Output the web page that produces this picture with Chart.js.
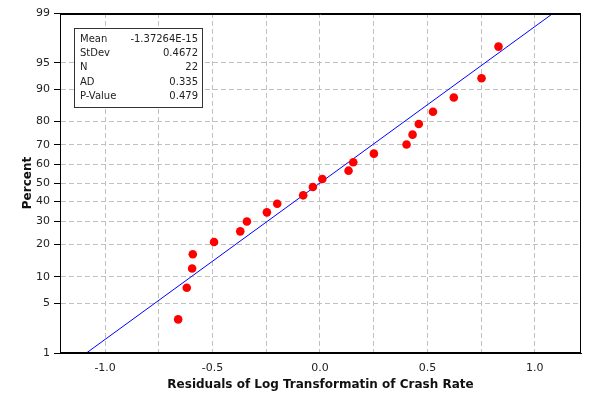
<!DOCTYPE html>
<html>
<head>
<meta charset="utf-8">
<script src="https://cdn.jsdelivr.net/npm/chart.js@4/dist/chart.umd.min.js"></script>
<style>
html,body{margin:0;padding:0;background:#fff;}
#wrap{width:590px;height:397px;position:relative;}
</style>
</head>
<body>
<div id="wrap"><canvas id="c" width="590" height="397"></canvas></div>
<script>
// ---- data ----
const residuals = [-0.660, -0.620, -0.595, -0.592, -0.493, -0.371, -0.340, -0.247, -0.199, -0.078, -0.033,
                   0.011, 0.133, 0.155, 0.251, 0.403, 0.431, 0.460, 0.526, 0.623, 0.752, 0.831];
const percents = [3.1, 7.6, 12.1, 16.5, 21.0, 25.4, 29.9, 34.4, 38.8, 43.3, 47.8,
                  52.2, 56.7, 61.2, 65.6, 70.1, 74.6, 79.0, 83.5, 87.9, 92.4, 96.9];
const fitLineX = [-1.087, 1.087];
const fitLinePct = [1, 99];
const yTickPct = [1, 5, 10, 20, 30, 40, 50, 60, 70, 80, 90, 95, 99];
const yTickLabels = ['1', '5', '10', '20', '30', '40', '50', '60', '70', '80', '90', '95', '99'];
const xGridVals = [-1.0, -0.75, -0.5, -0.25, 0, 0.25, 0.5, 0.75, 1.0];
const xTickLabels = ['-1.0', '', '-0.5', '', '0.0', '', '0.5', '', '1.0'];
const statLabels = ['Mean', 'StDev', 'N', 'AD', 'P-Value'];
const statValues = ['-1.37264E-15', '0.4672', '22', '0.335', '0.479'];

// inverse normal CDF (probability scale transform)
function probit(p) {
  const a = [-3.969683028665376e+01, 2.209460984245205e+02, -2.759285104469687e+02, 1.383577518672690e+02, -3.066479806614716e+01, 2.506628277459239e+00];
  const b = [-5.447609879822406e+01, 1.615858368580409e+02, -1.556989798598866e+02, 6.680131188771972e+01, -1.328068155288572e+01];
  const c = [-7.784894002430293e-03, -3.223964580411365e-01, -2.400758277161838e+00, -2.549732539343734e+00, 4.374664141464968e+00, 2.938163982698783e+00];
  const d = [7.784695709041462e-03, 3.224671290700398e-01, 2.445134137142996e+00, 3.754408661907416e+00];
  const pl = 0.02425, ph = 1 - pl;
  let q, r;
  if (p < pl) {
    q = Math.sqrt(-2 * Math.log(p));
    return (((((c[0]*q+c[1])*q+c[2])*q+c[3])*q+c[4])*q+c[5]) / ((((d[0]*q+d[1])*q+d[2])*q+d[3])*q+1);
  } else if (p <= ph) {
    q = p - 0.5; r = q * q;
    return (((((a[0]*r+a[1])*r+a[2])*r+a[3])*r+a[4])*r+a[5])*q / (((((b[0]*r+b[1])*r+b[2])*r+b[3])*r+b[4])*r+1);
  } else {
    q = Math.sqrt(-2 * Math.log(1 - p));
    return -(((((c[0]*q+c[1])*q+c[2])*q+c[3])*q+c[4])*q+c[5]) / ((((d[0]*q+d[1])*q+d[2])*q+d[3])*q+1);
  }
}

const pts = residuals.map((x, i) => ({x: x, y: probit(percents[i] / 100)}));
const linePts = fitLineX.map((x, i) => ({x: x, y: probit(fitLinePct[i] / 100)}));

const FONT = "'DejaVu Sans', Verdana, sans-serif";

const framePlugin = {
  id: 'frame',
  afterDraw(chart) {
    const ctx = chart.ctx, a = chart.chartArea;
    ctx.save();
    ctx.setLineDash([]);
    ctx.strokeStyle = '#000';
    ctx.lineWidth = 1;
    ctx.strokeRect(Math.round(a.left) + 0.5, Math.round(a.top) + 0.5, Math.round(a.right - a.left) - 1, Math.round(a.bottom - a.top) - 1);
    ctx.beginPath();
    ctx.moveTo(a.left, Math.round(a.top) + 1.5);
    ctx.lineTo(a.right, Math.round(a.top) + 1.5);
    ctx.stroke();
    // stats box
    const bx = a.left + 14, by = a.top + 15, bw = 128, bh = 79;
    ctx.fillStyle = '#fff';
    ctx.fillRect(bx, by, bw, bh);
    ctx.strokeStyle = '#333';
    ctx.strokeRect(Math.round(bx) + 0.5, Math.round(by) + 0.5, bw, bh);
    ctx.font = "10px " + FONT;
    ctx.fillStyle = '#222';
    ctx.textBaseline = 'middle';
    for (let i = 0; i < statLabels.length; i++) {
      const yy = by + 11 + i * 14.4;
      ctx.textAlign = 'left';
      ctx.fillText(statLabels[i], bx + 6, yy);
      ctx.textAlign = 'right';
      ctx.fillText(statValues[i], bx + bw - 4, yy);
    }
    ctx.restore();
  }
};

new Chart(document.getElementById('c'), {
  type: 'scatter',
  data: {
    datasets: [
      {
        type: 'line',
        data: linePts,
        borderColor: '#0000ff',
        borderWidth: 1,
        pointRadius: 0,
        fill: false,
        order: 2
      },
      {
        data: pts,
        backgroundColor: '#ff0000',
        borderColor: '#ff0000',
        borderWidth: 0,
        pointRadius: 4.3,
        order: 1
      }
    ]
  },
  options: {
    responsive: false,
    animation: false,
    events: [],
    layout: {padding: {top: 13, right: 9, left: 0, bottom: 0}},
    plugins: {legend: {display: false}, tooltip: {enabled: false}},
    scales: {
      x: {
        type: 'linear',
        min: -1.21,
        max: 1.215,
        afterFit(s) { s.height = 44; },
        afterBuildTicks(s) { s.ticks = xGridVals.map(v => ({value: v})); },
        ticks: {
          autoSkip: false,
          maxRotation: 0,
          padding: 9,
          color: '#222',
          font: {family: FONT, size: 11},
          callback: (v, i) => xTickLabels[i]
        },
        grid: {color: '#c0c0c0', drawTicks: false, lineWidth: 1},
        border: {display: true, color: '#000', width: 1, dash: [5, 3]},
        title: {
          display: true,
          text: 'Residuals of Log Transformatin of Crash Rate',
          color: '#111',
          font: {family: FONT, size: 12, weight: 'bold'},
          padding: {top: 0, bottom: 5}
        }
      },
      y: {
        type: 'linear',
        min: probit(0.01),
        max: probit(0.99),
        afterFit(s) { s.width = 60; },
        afterBuildTicks(s) { s.ticks = yTickPct.map(p => ({value: probit(p / 100)})); },
        ticks: {
          autoSkip: false,
          padding: 4,
          color: '#222',
          font: {family: FONT, size: 11},
          callback: (v, i) => yTickLabels[i]
        },
        grid: {color: '#c0c0c0', drawTicks: true, tickLength: 6, tickColor: '#000', tickBorderDash: [], lineWidth: 1},
        border: {display: true, color: '#000', width: 1, dash: [5, 3]},
        title: {
          display: true,
          text: 'Percent',
          color: '#111',
          font: {family: FONT, size: 12, weight: 'bold'},
          padding: {top: 21, bottom: 0}
        }
      }
    }
  },
  plugins: [framePlugin]
});
</script>
</body>
</html>
